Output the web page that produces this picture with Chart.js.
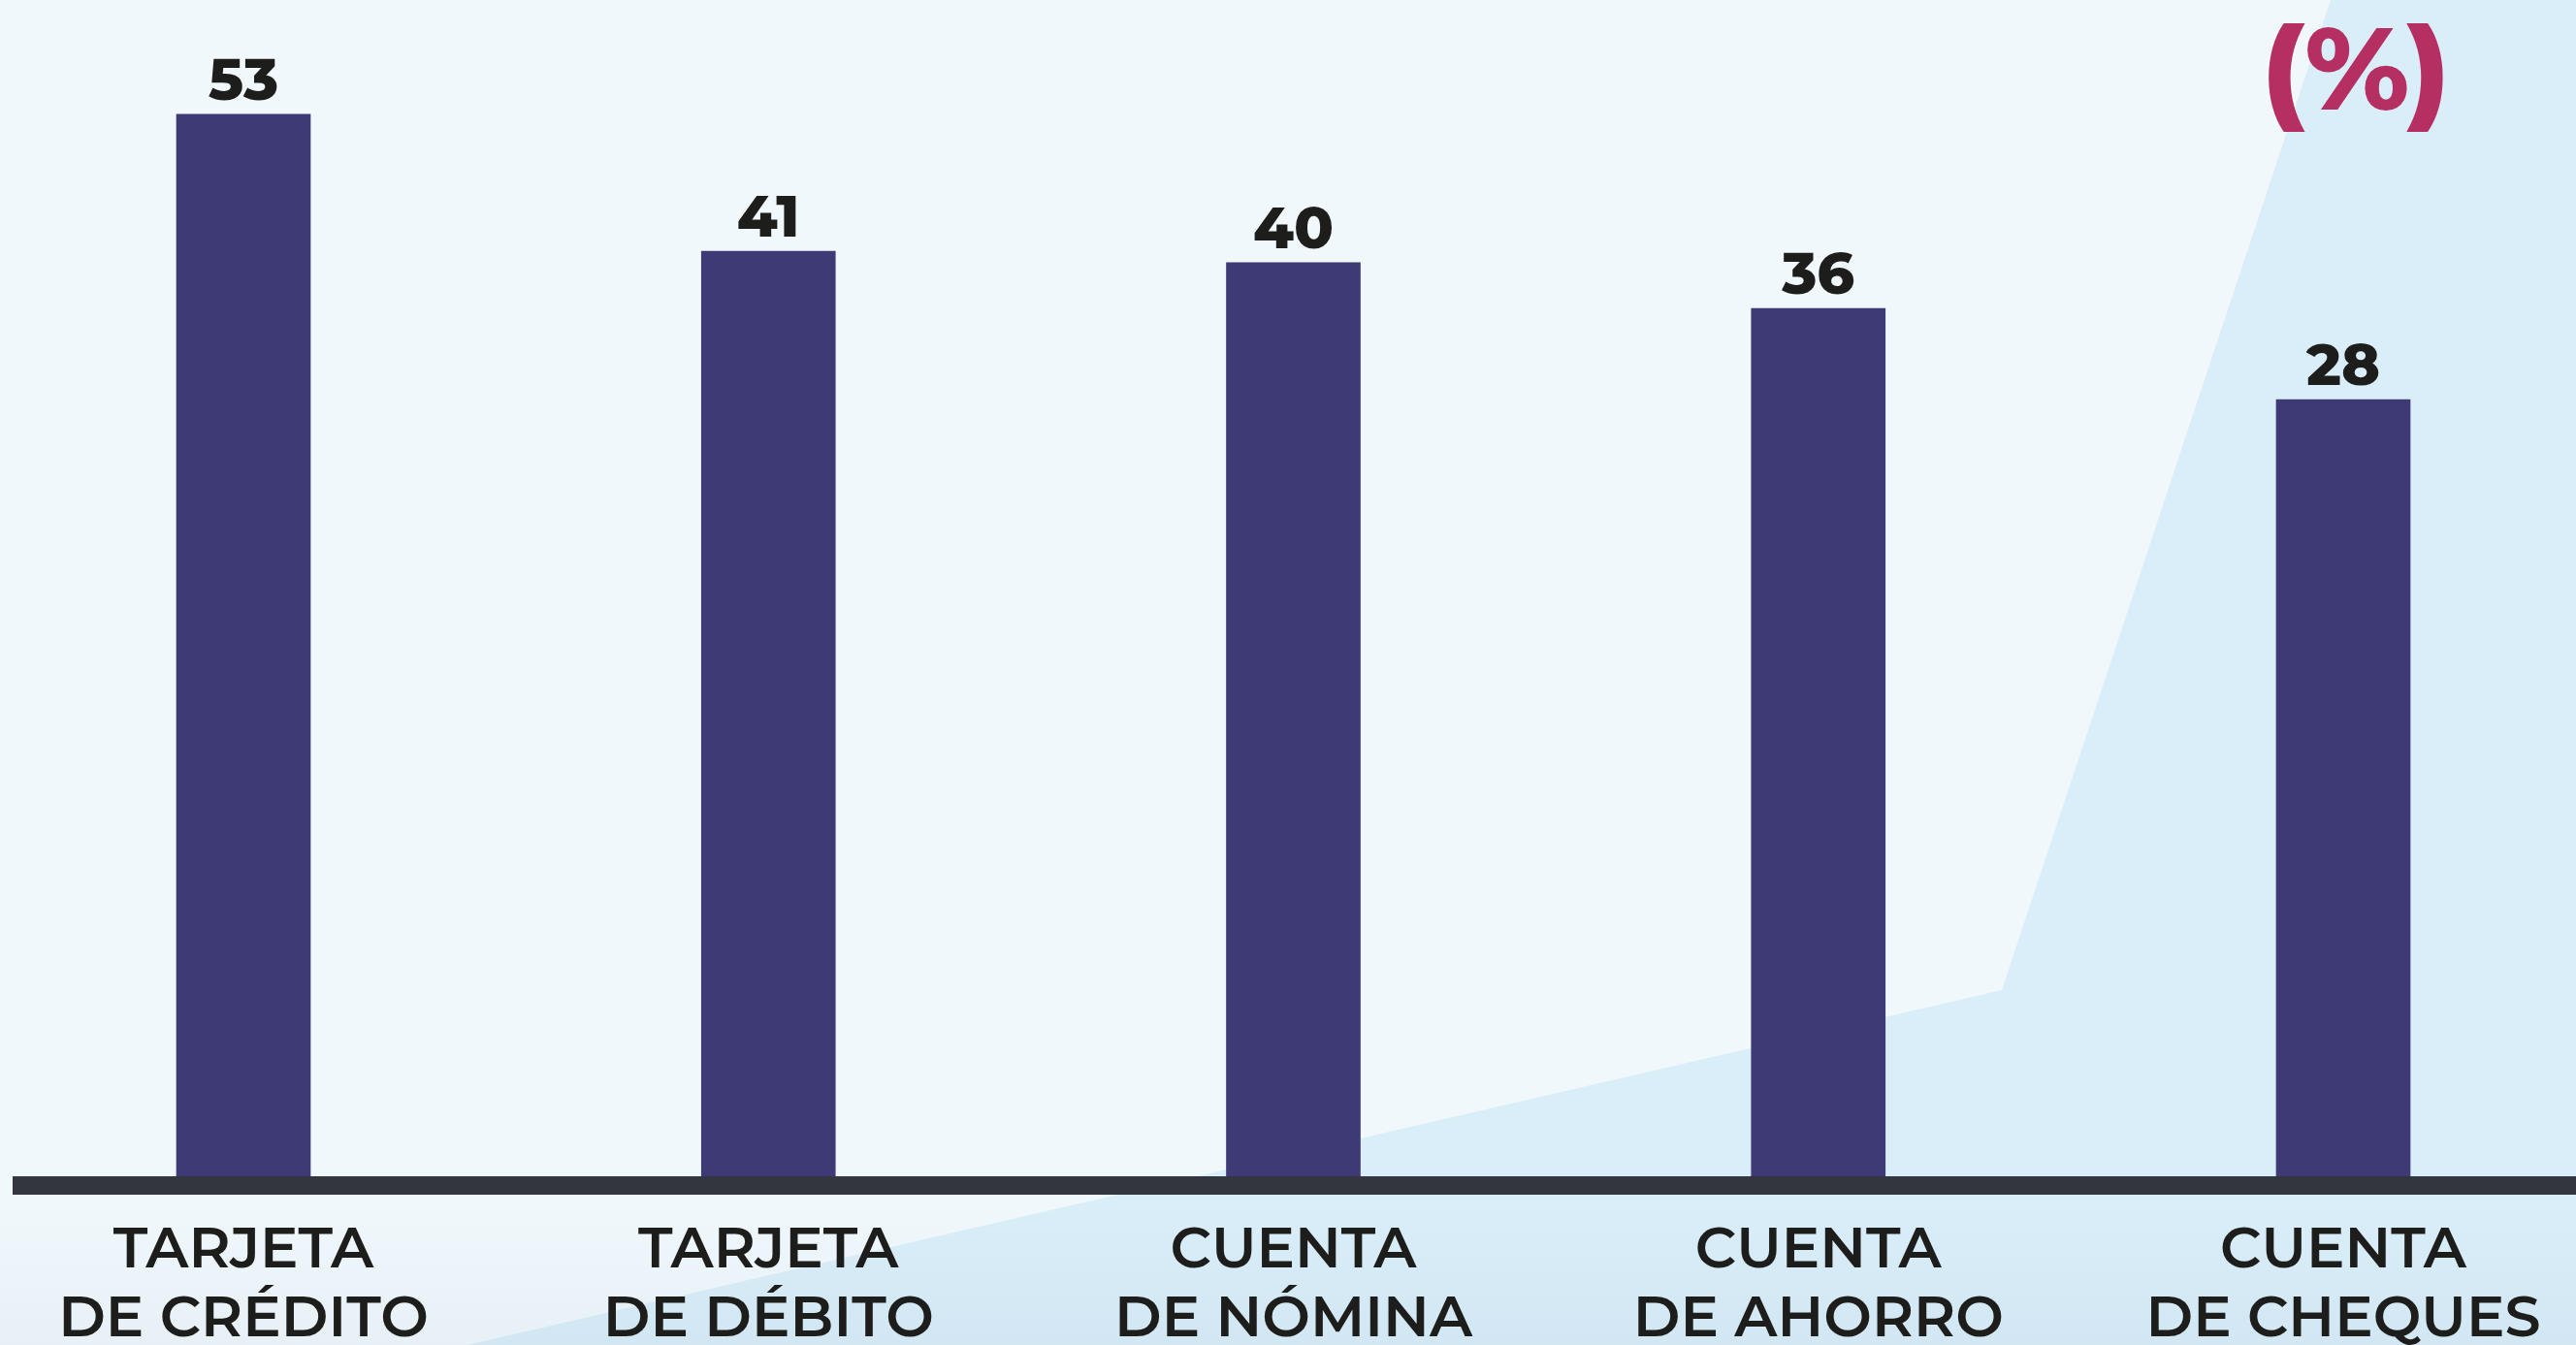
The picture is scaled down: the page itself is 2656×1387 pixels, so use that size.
<!DOCTYPE html>
<html>
<head>
<meta charset="utf-8">
<script src="https://cdn.jsdelivr.net/npm/chart.js@4.4.1/dist/chart.umd.min.js"></script>
<style>
  html, body { margin: 0; padding: 0; background: #f0f8fc; }
  #wrap { width: 2656px; height: 1387px; position: relative; }
</style>
</head>
<body>
<div id="wrap"><canvas id="chart"></canvas></div>
<script>
// Productos financieros con los que cuentan (%)
const categories = [
  ["TARJETA", "DE CRÉDITO"],
  ["TARJETA", "DE DÉBITO"],
  ["CUENTA", "DE NÓMINA"],
  ["CUENTA", "DE AHORRO"],
  ["CUENTA", "DE CHEQUES"],
];
const values = [53, 41, 40, 36, 28];
const unitLabel = "(%)";

// the bars in the source do not start at zero
const yMin = -40;
const yMax = 63;

const FONT = "Montserrat, Inter, 'Open Sans', sans-serif";

// light background with the big pale-blue wedge on the right
const backdrop = {
  id: "backdrop",
  beforeDraw(chart) {
    const { ctx, width: w, height: h } = chart;
    ctx.save();
    ctx.fillStyle = "#f0f8fc";
    ctx.fillRect(0, 0, w, h);
    ctx.fillStyle = "#d9eef9";
    ctx.beginPath();
    ctx.moveTo(2403, 0);
    ctx.lineTo(w, 0);
    ctx.lineTo(w, h);
    ctx.lineTo(482, h);
    ctx.lineTo(2064, 1021);
    ctx.closePath();
    ctx.fill();
    const g = ctx.createLinearGradient(0, 1240, 0, h);
    g.addColorStop(0, "rgba(120,150,170,0)");
    g.addColorStop(1, "rgba(120,150,170,0.08)");
    ctx.fillStyle = g;
    ctx.fillRect(0, 1240, w, h - 1240);
    ctx.restore();
  },
  afterDraw(chart) {
    const { ctx, width: w } = chart;
    const y = chart.scales.y.getPixelForValue(yMin);
    ctx.save();
    // thick axis line across the page
    ctx.fillStyle = "#33353f";
    ctx.fillRect(13, y, w - 13, 19);
    // value labels
    ctx.fillStyle = "#1d1d1b";
    ctx.font = `800 60px ${FONT}`;
    ctx.textAlign = "center";
    ctx.textBaseline = "alphabetic";
    chart.getDatasetMeta(0).data.forEach((bar, i) => {
      ctx.fillText(String(values[i]), bar.x, bar.y - 15);
    });
    // unit label
    ctx.fillStyle = "#b52f63";
    ctx.font = `800 120px ${FONT}`;
    ctx.textBaseline = "middle";
    ctx.fillText(unitLabel, 2429, 78);
    ctx.restore();
  },
};

new Chart(document.getElementById("chart"), {
  type: "bar",
  data: {
    labels: categories,
    datasets: [{
      data: values,
      base: yMin,
      backgroundColor: "#3d3a75",
      barThickness: 138,
      clip: false,
    }],
  },
  options: {
    responsive: true,
    maintainAspectRatio: false,
    animation: false,
    layout: { padding: { left: 251, right: 240, top: 0, bottom: 0 } },
    scales: {
      x: {
        offset: false,
        grid: { display: false, drawTicks: false },
        border: { display: false },
        afterFit(scale) {
          scale.height = 174;
          scale.paddingLeft = 0;
          scale.paddingRight = 0;
        },
        ticks: {
          autoSkip: false,
          maxRotation: 0,
          padding: 42,
          color: "#1d1d1b",
          font: { family: FONT, size: 59, weight: "600", lineHeight: 1.19 },
        },
      },
      y: {
        display: false,
        min: yMin,
        max: yMax,
      },
    },
    plugins: {
      legend: { display: false },
      tooltip: { enabled: false },
    },
  },
  plugins: [backdrop],
});
</script>
</body>
</html>
